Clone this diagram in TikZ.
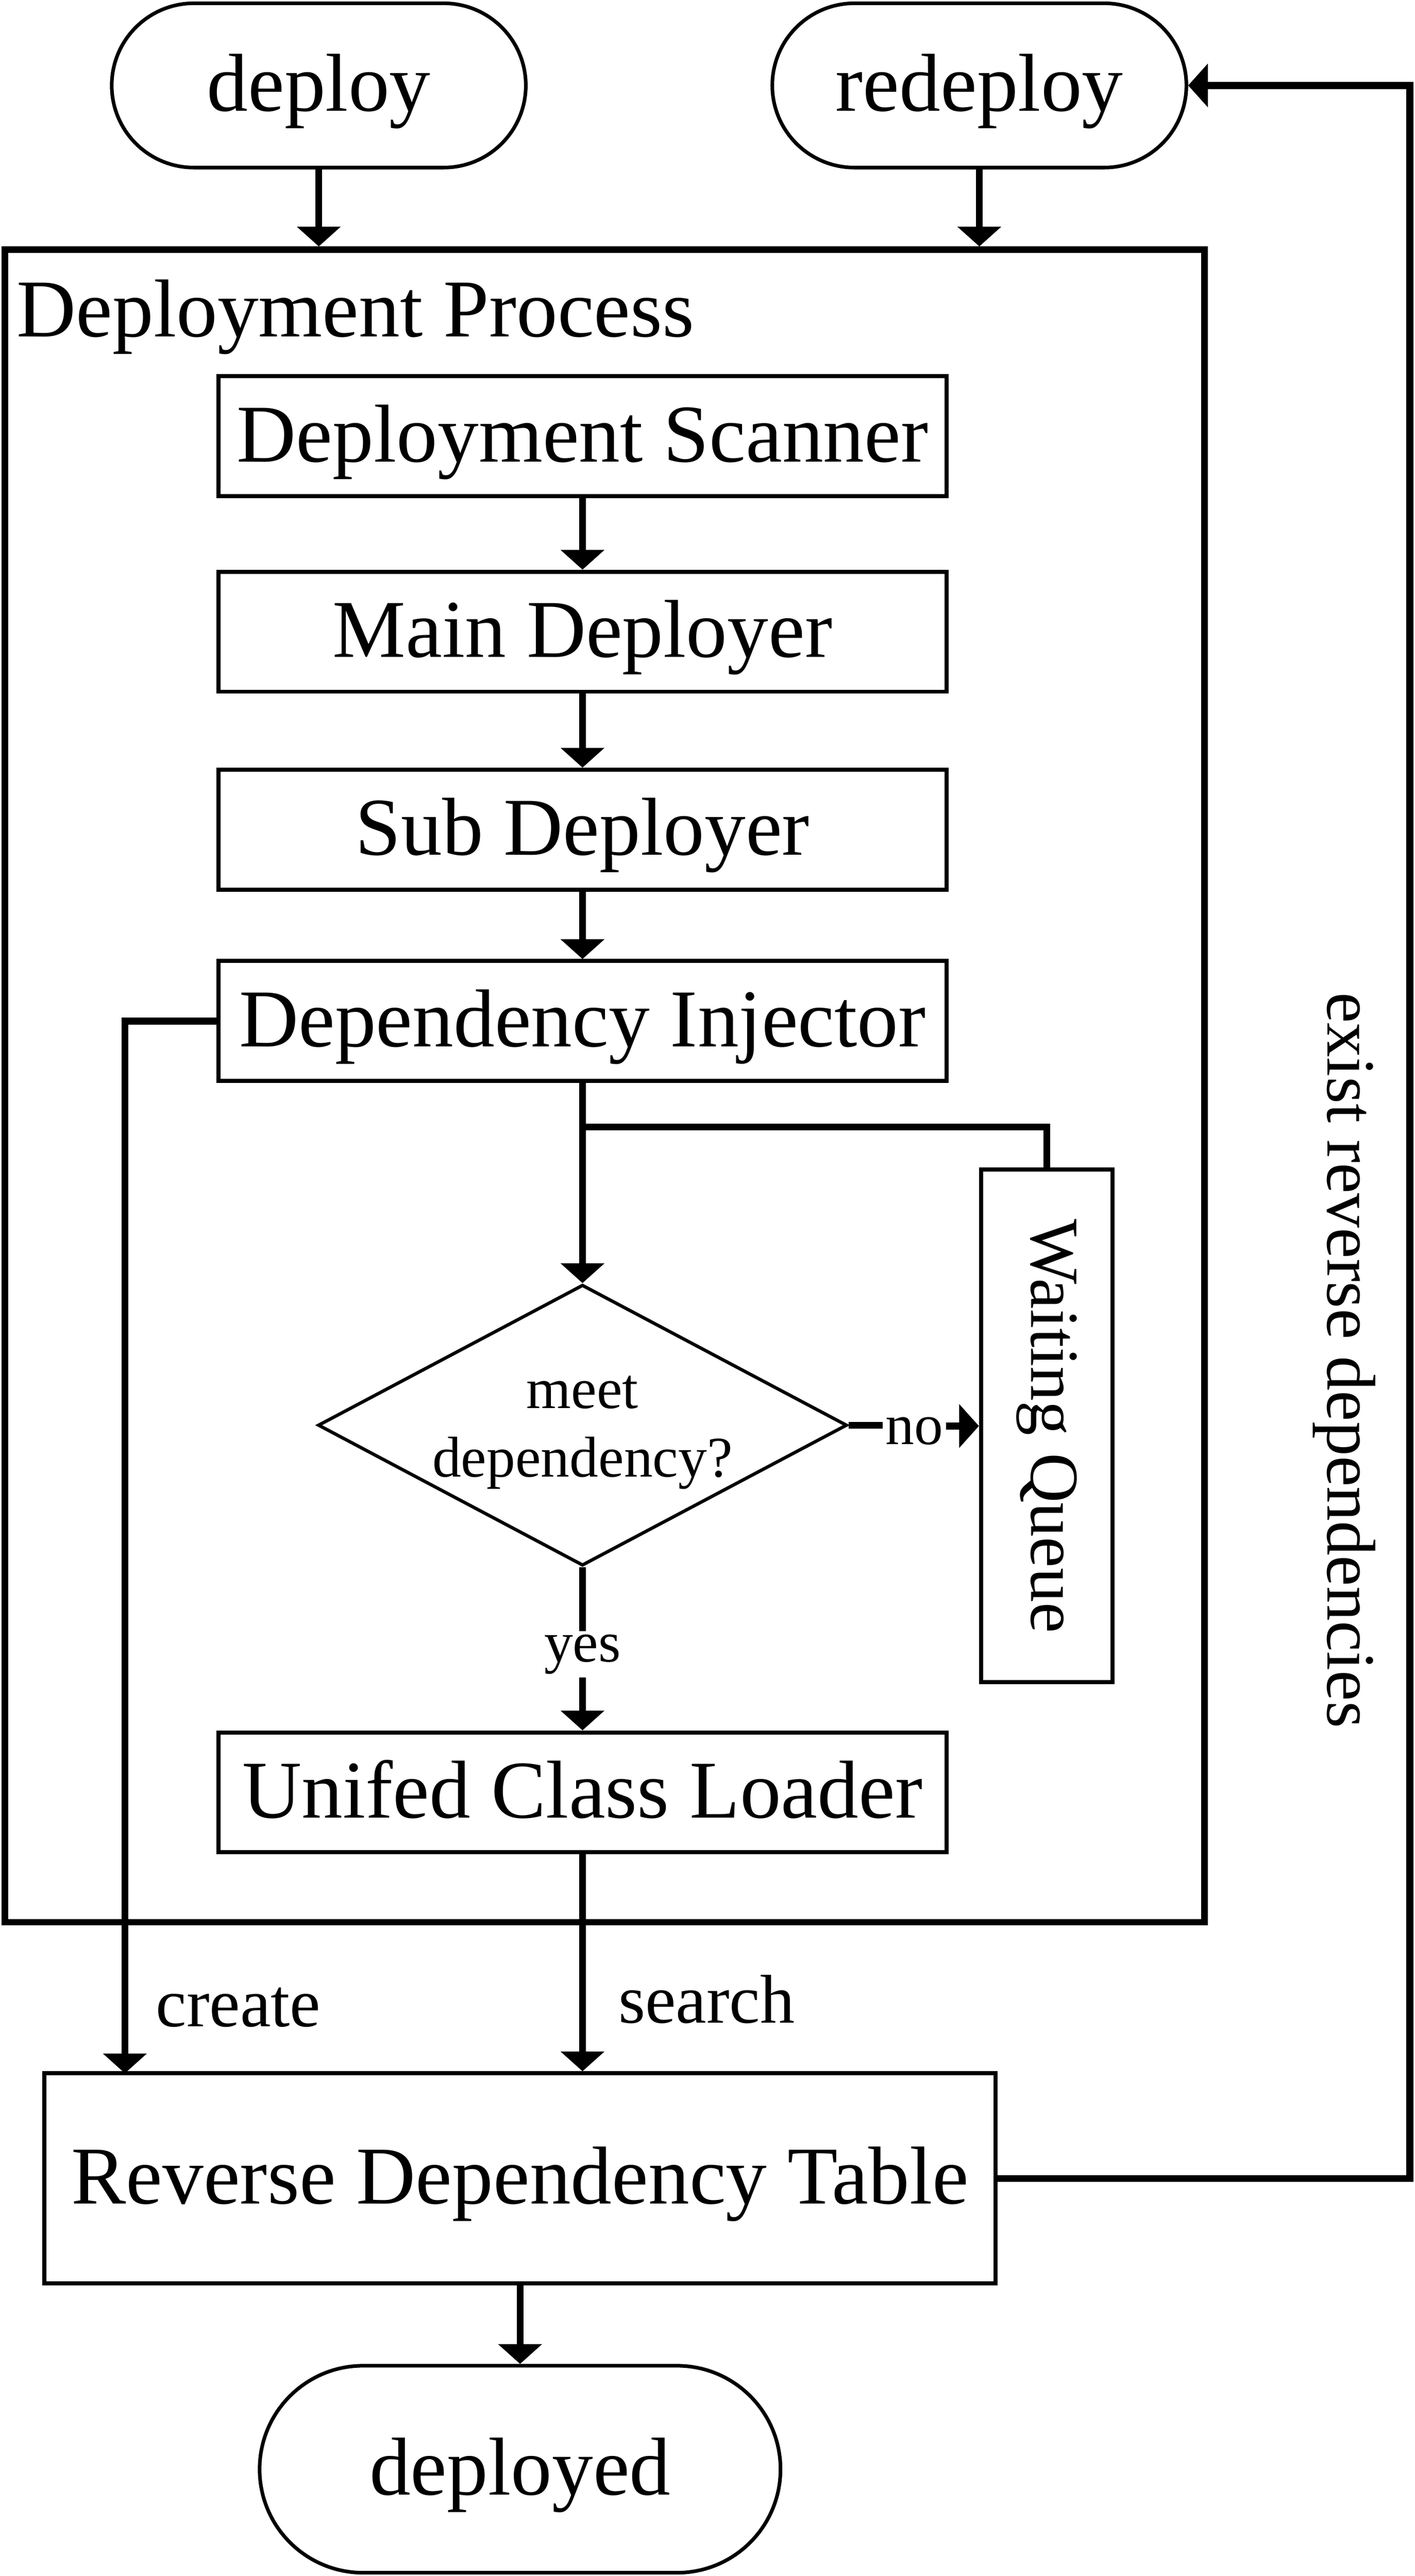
\documentclass[tikz,border=0pt]{standalone}
\usepackage{fontspec}
\setmainfont{Liberation Serif}
\usetikzlibrary{arrows.meta,shapes.geometric}
\tikzset{
  big/.style={font=\fontsize{50}{60}\selectfont, text height=42pt, text depth=11pt},
  mid/.style={font=\fontsize{42}{50}\selectfont},
  small/.style={font=\fontsize{35}{42}\selectfont},
  procbox/.style={draw, line width=2.5pt, minimum width=443pt, minimum height=73pt, inner sep=0pt, big},
  term/.style={draw, line width=2.2pt, inner sep=0pt, big},
  container/.style={draw, line width=4pt, inner sep=0pt},
  arr/.style={line width=4.2pt, -{Triangle[width=26pt,length=12pt]}},
  ln/.style={line width=4.2pt},
}
\begin{document}
\begin{tikzpicture}[x=1pt,y=-1pt]
\useasboundingbox (0,0) rectangle (861,1568);
% terminals
\node[term, minimum width=252pt, minimum height=100pt, rounded corners=50pt] (deploy) at (194,52) {deploy};
\node[term, minimum width=252pt, minimum height=100pt, rounded corners=50pt] (redeploy) at (596,52) {redeploy};
% container
\node[container, minimum width=730pt, minimum height=1018pt] (dp) at (368,661) {};
\node[font=\fontsize{50}{60}\selectfont, anchor=base west, inner sep=0pt] (dplabel) at (10,205) {Deployment Process};
% process boxes
\node[procbox] (ds) at (354.5,265.5) {Deployment Scanner};
\node[procbox] (md) at (354.5,384.5) {Main Deployer};
\node[procbox] (sd) at (354.5,505) {Sub Deployer};
\node[procbox] (di) at (354.5,621.5) {Dependency Injector};
\node[procbox] (ucl) at (354.5,1091) {Unifed Class Loader};
% diamond
\node[diamond, draw, line width=2pt, minimum width=322pt, minimum height=171pt, inner sep=0pt] (dia) at (354.5,867.5) {};
\node[small, align=center] (diatext) at (354.5,872) {meet\\dependency?};
% waiting queue
\node[draw, line width=2.5pt, minimum width=80pt, minimum height=312pt, inner sep=0pt] (wq) at (637,868) {};
\node[mid, rotate=-90] (wqtext) at (637,868) {Waiting Queue};
% reverse dependency table
\node[draw, line width=2.5pt, minimum width=579pt, minimum height=128pt, inner sep=0pt, big] (rdt) at (316.5,1326) {Reverse Dependency Table};
\node[term, minimum width=317pt, minimum height=126pt, rounded corners=63pt] (deployed) at (316.5,1503) {deployed};
% labels
\node[small, inner xsep=1.5pt] (no) at (556.5,871) {no};
\node[small, inner sep=2pt] (yes) at (354.5,1007) {yes};
\node[mid] (create) at (145,1222) {create};
\node[mid] (search) at (430,1217) {search};
\node[mid, rotate=-90] (exist) at (818,828) {exist reverse dependencies};
% connectors
\draw[arr] (deploy.south) -- (deploy.south |- dp.north);
\draw[arr] (redeploy.south) -- (redeploy.south |- dp.north);
\draw[arr] (ds) -- (md);
\draw[arr] (md) -- (sd);
\draw[arr] (sd) -- (di);
\draw[arr] (di.south) -- (dia.north);
\coordinate (br) at (354.5,686);
\draw[ln] (br) -| (wq.north);
\draw[ln] (dia.east) -- (dia.east -| no.west);
\draw[arr] (no.east |- wq.west) -- (wq.west);
\draw[ln] (dia.south) -- (yes.north);
\draw[arr] (yes.south) -- (ucl.north);
\draw[arr] (ucl.south) -- (rdt.north -| ucl.south);
\coordinate (ct) at (76,1262);
\draw[arr] (di.west) -| (ct);
\coordinate (fb) at (858,1326);
\draw[arr] (rdt.east) -- (fb) |- (redeploy.east);
\draw[arr] (rdt.south) -- (deployed.north);
\end{tikzpicture}
\end{document}
